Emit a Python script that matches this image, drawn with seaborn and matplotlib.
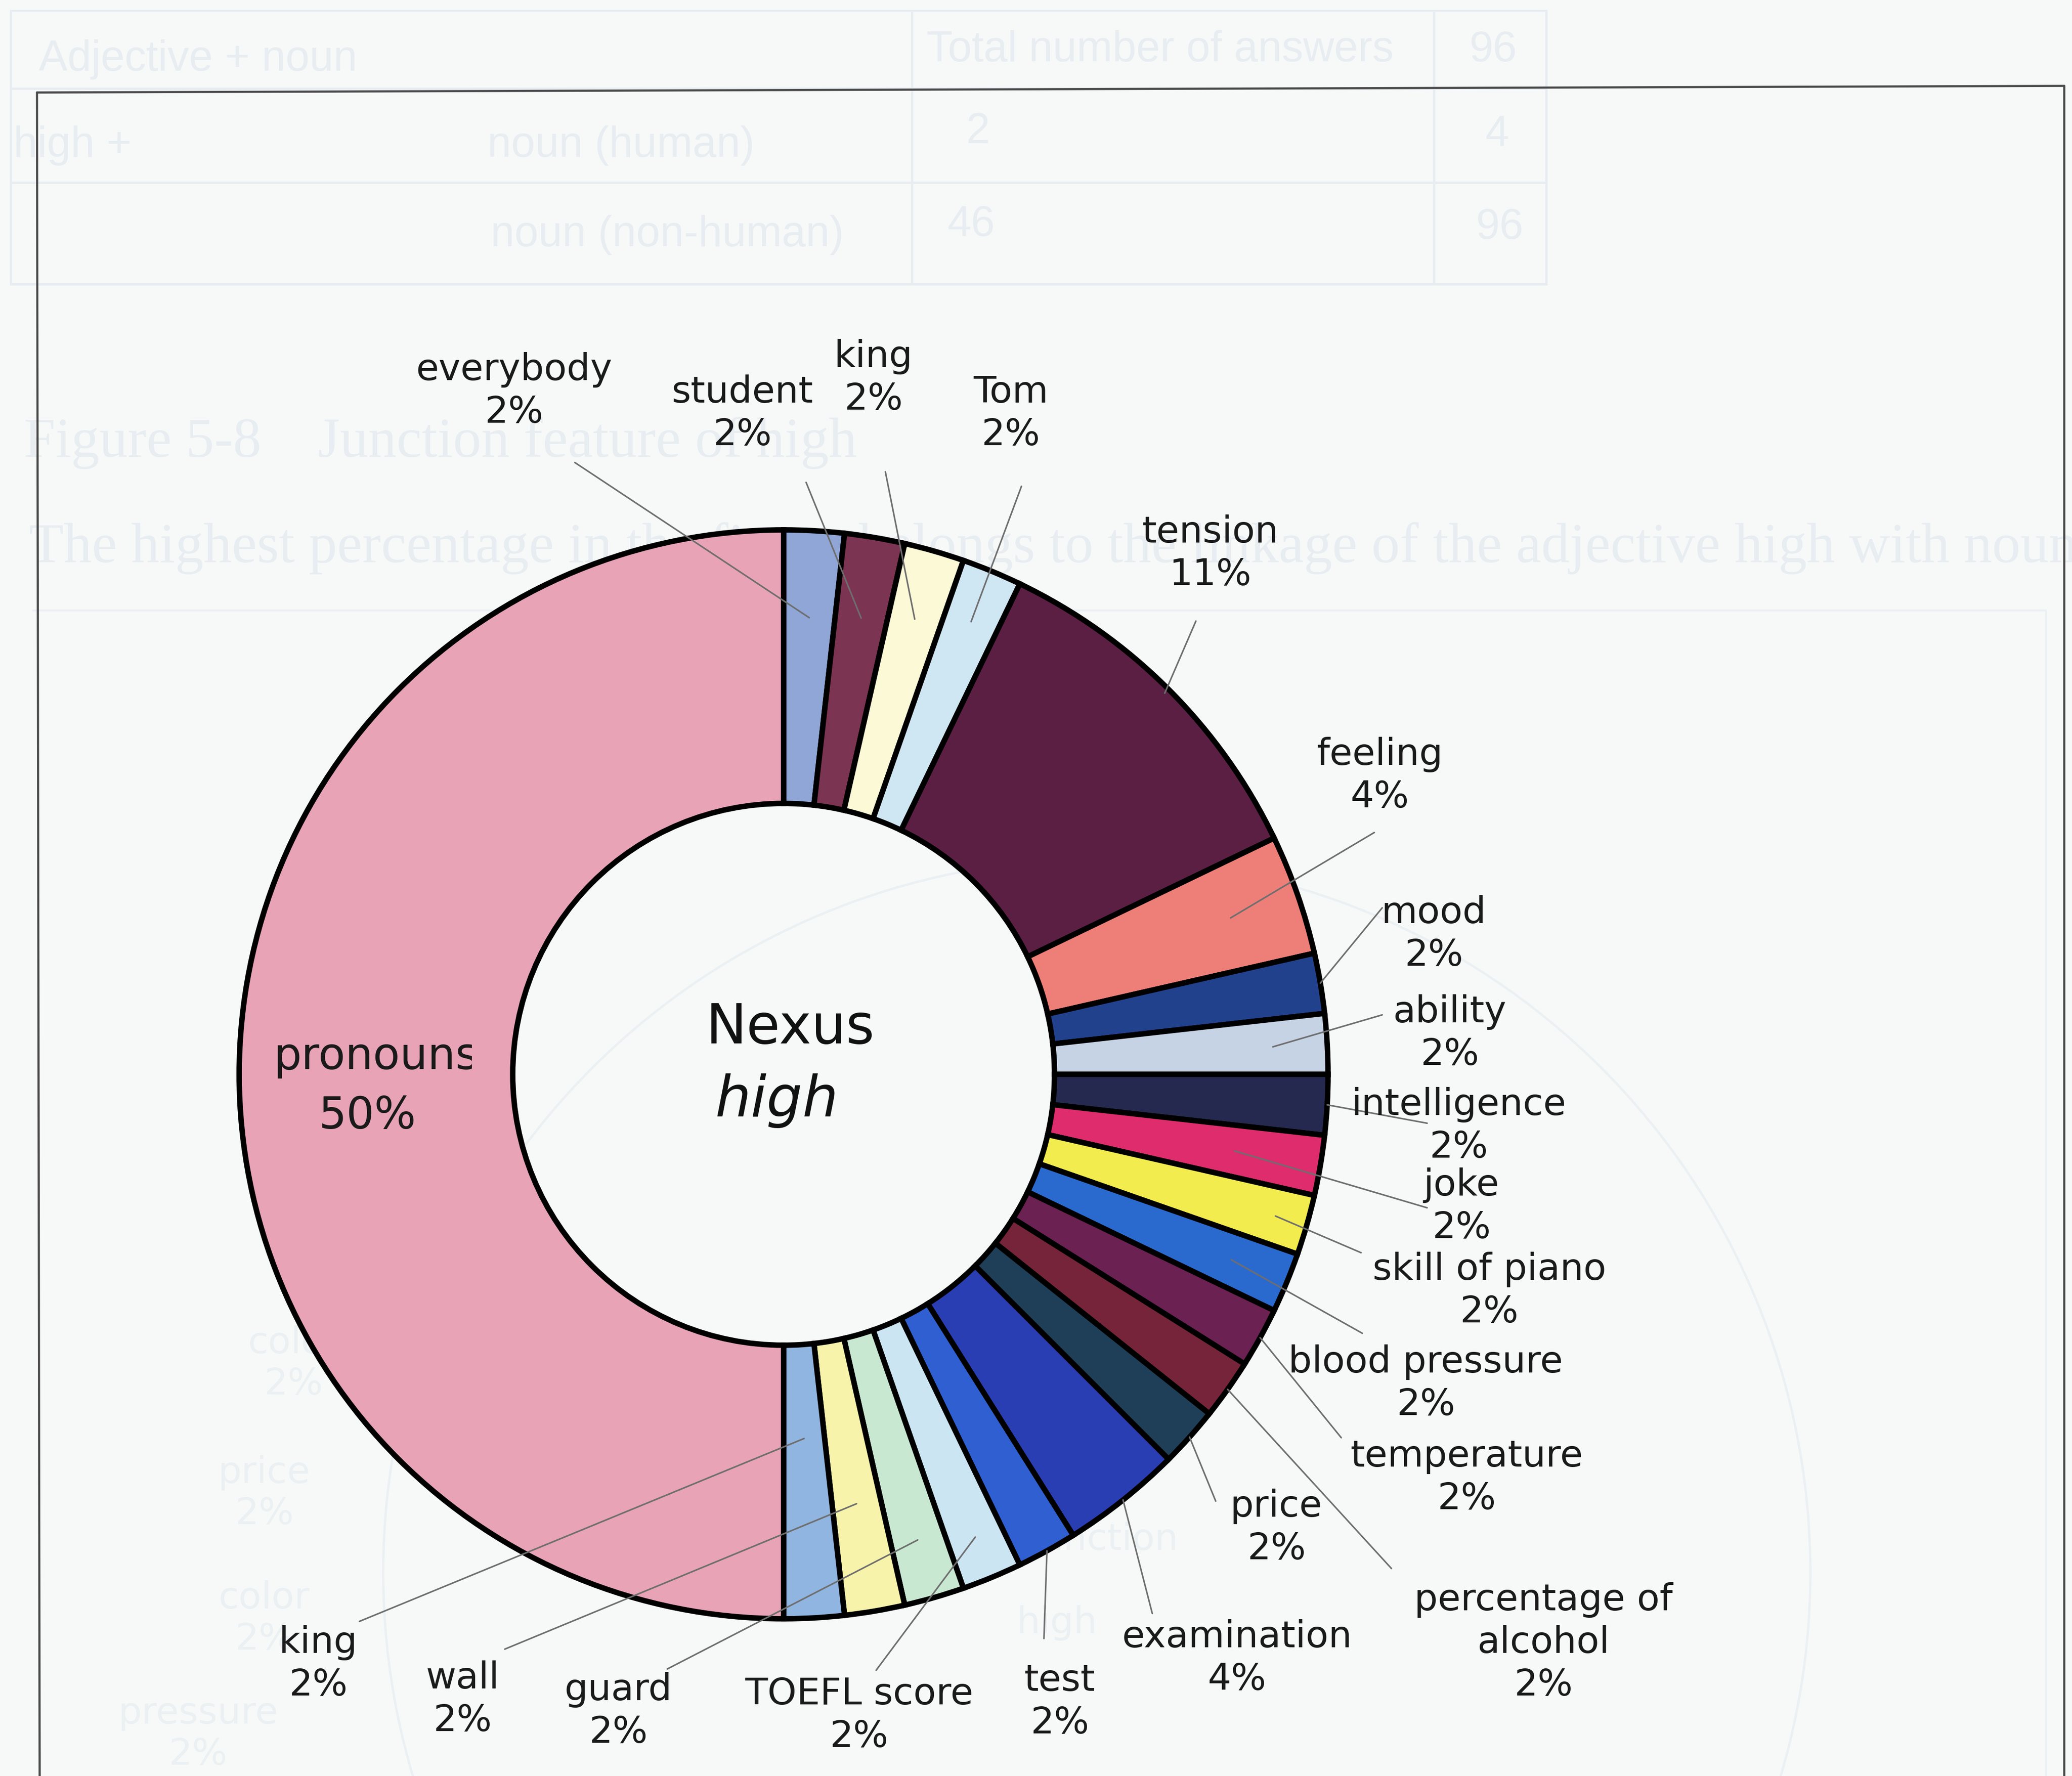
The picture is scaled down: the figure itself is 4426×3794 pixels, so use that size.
import numpy as np
import matplotlib
matplotlib.use('Agg')
import matplotlib.pyplot as plt
import seaborn as sns
from matplotlib.patches import Rectangle, Circle

sns.set_theme(style='white')
plt.rcParams['font.family'] = ['DejaVu Sans']

# --- data: slices clockwise from 12 o'clock (counts out of 56 answers) ---
names = ['everybody', 'student', 'king', 'Tom', 'tension', 'feeling', 'mood',
         'ability', 'intelligence', 'joke', 'skill of piano', 'blood pressure',
         'temperature', 'percentage of\nalcohol', 'price', 'examination', 'test',
         'TOEFL score', 'guard', 'wall', 'king', 'pronouns']
counts = [1, 1, 1, 1, 6, 2, 1, 1, 1, 1, 1, 1, 1, 1, 1, 2, 1, 1, 1, 1, 1, 28]
colors = ['#8FA6D6', '#7B3451', '#FBF9D6', '#CFE6F3', '#5C1F44', '#EE7F78',
          '#22418D', '#C6D3E5', '#25294F', '#DE2C6C', '#F3EC4E', '#2A6ACF',
          '#6B2152', '#76243A', '#1F3F58', '#2A3EB4', '#2F5FD0', '#CBE5F3',
          '#C9E8D2', '#F7F3AA', '#90B5E0', '#E8A3B6']
center_title = 'Nexus'
center_word = 'high'

# --- layout (page pixel grid of the scan, y downwards) ---
W, H = 1568, 1344
CX, CY, R, RING = 593, 813, 412, 207
BG = '#F7F9F9'

label_xy = [(389, 296), (562, 313), (661, 286), (765, 313), (916, 419),
            (1044, 587), (1085, 707), (1097, 782), (1104, 852), (1106, 913),
            (1127, 977), (1079, 1047), (1110, 1118), (1168, 1243), (966, 1156),
            (936, 1255), (802, 1288), (650, 1298), (468, 1295), (350, 1286),
            (241, 1259)]
leader_end = [(435, 350), (610, 365), (670, 357), (773, 368), (905, 470),
              (1040, 630), (1046, 687), (1046, 768), (1080, 850), (1080, 914),
              (1030, 948), (1031, 1009), (1015, 1088), (1053, 1187), (920, 1136),
              (872, 1221), (790, 1240), (663, 1264), (505, 1263), (382, 1248),
              (272, 1227)]
leader_frac = [0.84, 0.85, 0.87, 0.9, 0.99, 0.87, 1.0, 0.9, 1.0, 0.84, 0.94,
               0.89, 1.0, 1.0, 1.0, 1.0, 1.0, 0.92, 0.89, 0.8, 0.67]

total = sum(counts)


def pct(c):
    return f'{round(100 * c / total)}%'


fig = plt.figure(figsize=(4426 / 300, 3794 / 300), dpi=300, facecolor=BG)
ax = fig.add_axes([0, 0, 1, 1])
ax.set_facecolor(BG)

# very faint bleed-through from the scanned page
ghost = '#E7EDF1'
ghost2 = '#EBF0F3'
for y in [8, 67, 138, 215]:
    ax.plot([8, 1170], [y, y], color=ghost, lw=1.2, zorder=0)
for x in [8, 690, 1085, 1170]:
    ax.plot([x, x], [8, 215], color=ghost, lw=1.2, zorder=0)
for (x, y, s) in [(150, 45, 'Adjective + noun'), (878, 38, 'Total number of answers'),
                  (1130, 38, '96'), (55, 110, 'high +'), (470, 110, 'noun (human)'),
                  (740, 100, '2'), (1133, 102, '4'), (505, 178, 'noun (non-human)'),
                  (735, 170, '46'), (1135, 172, '96')]:
    ax.text(x, y, s, ha='center', va='center', fontsize=22, color=ghost,
            family='Liberation Sans', zorder=0)
ax.text(18, 335, 'Figure 5-8    Junction feature of high', ha='left', va='center',
        fontsize=29, color=ghost, family='Liberation Serif', zorder=0)
ax.text(22, 415, 'The highest percentage in the figure belongs to the linkage of the adjective high with noun',
        ha='left', va='center', fontsize=29, color=ghost, family='Liberation Serif',
        zorder=0, clip_on=True)
ax.plot([25, 1548, 1548], [462, 462, H], color=ghost2, lw=1.0, zorder=0)
ax.add_patch(Circle((830, 1190), 540, fill=False, ec=ghost2, lw=1.2, zorder=0))
for (x, y, s) in [(240, 925, 'time\n2%'), (222, 1032, 'color\n2%'), (200, 1130, 'price\n2%'),
                  (200, 1225, 'color\n2%'), (150, 1312, 'pressure\n2%'),
                  (835, 1165, 'Junction'), (800, 1228, 'high')]:
    ax.text(x, y, s, ha='center', va='center', fontsize=19, color=ghost2, zorder=0)

# chart frame
ax.plot([28, 1562], [70, 65], color='#4A4A4A', lw=1.1, zorder=1)
ax.plot([28, 30], [70, H], color='#4A4A4A', lw=1.1, zorder=1)
ax.plot([1562, 1562], [65, H], color='#4A4A4A', lw=1.1, zorder=1)

# donut (y axis is inverted, so counterclock=True reads clockwise)
wedges, _ = ax.pie(counts, colors=colors, startangle=-90, counterclock=True,
                   center=(CX, CY), radius=R, frame=True,
                   wedgeprops=dict(width=RING, edgecolor='black', linewidth=2.8))
ax.set_xlim(0, W)
ax.set_ylim(H, 0)
ax.set_aspect('auto')
ax.axis('off')

# leader lines and labels
for w, f, (ex, ey) in zip(wedges[:-1], leader_frac, leader_end):
    th = np.deg2rad((w.theta1 + w.theta2) / 2)
    sx, sy = CX + f * R * np.cos(th), CY + f * R * np.sin(th)
    ax.plot([sx, ex], [sy, ey], color='#6E6E6E', lw=0.8, zorder=5)

for name, c, (lx, ly) in zip(names[:-1], counts[:-1], label_xy):
    ax.text(lx, ly, f'{name}\n{pct(c)}', ha='center', va='center', fontsize=19,
            color='#1A1A1A', linespacing=1.25, zorder=6)

# pronouns label is cut off by its own text box in the original
t = ax.text(207, 800, names[-1], ha='left', va='center', fontsize=22.5,
            color='#1A1A1A', zorder=6)
t.set_clip_path(Rectangle((0, 0), 357, H, transform=ax.transData))
t.set_clip_on(True)
ax.text(278, 845, pct(counts[-1]), ha='center', va='center', fontsize=22.5,
        color='#1A1A1A', zorder=6)

# centre caption
ax.text(598, 778, center_title, ha='center', va='center', fontsize=28,
        color='#111111', zorder=6)
ax.text(588, 833, center_word, ha='center', va='center', fontsize=29,
        style='italic', color='#111111', zorder=6)

fig.savefig('out.png', dpi=300, facecolor=BG)
